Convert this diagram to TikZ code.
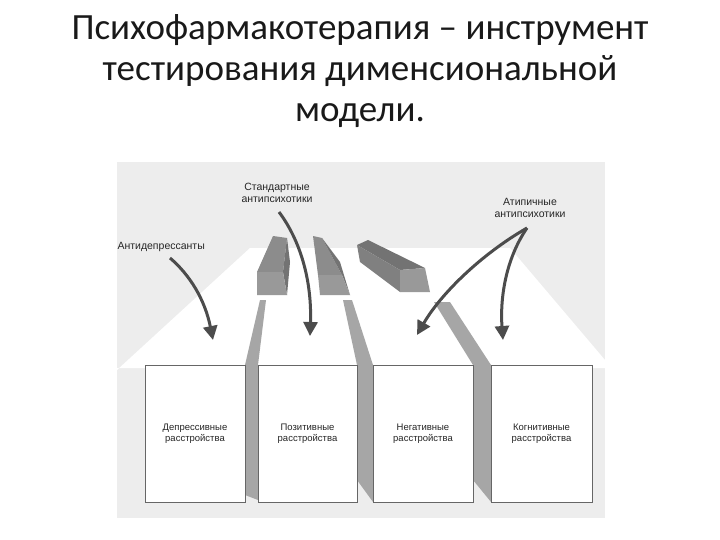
\documentclass[tikz,border=0pt]{standalone}
\usepackage{fontspec}
\setmainfont{Carlito}
\newfontfamily\lab{Liberation Sans}
\usetikzlibrary{arrows.meta}
\begin{document}
\begin{tikzpicture}[x=1pt,y=-1pt,
  title/.style={font=\fontsize{37}{41}\selectfont,align=center,text=black!90},
  lbl/.style={font=\lab\fontsize{10.5}{12.5}\selectfont,align=center,text=black!85},
  btxt/.style={font=\lab\fontsize{9.5}{11.5}\selectfont,align=center,text=black!85},
  box/.style={draw=black!60,fill=white,line width=0.5pt},
  beam/.style={fill=black!35},
  arr/.style={draw=black!70,line width=3pt,-{Triangle[length=14pt,width=14pt]}}]
\useasboundingbox (0,0) rectangle (720,540);
\node[title] (t) at (360,71) {Психофармакотерапия – инструмент\\тестирования дименсиональной\\модели.};
\fill[black!7] (117,162) rectangle (605,518);
\fill[white] (250,248) -- (510,248) -- (605,360) -- (605,368) -- (117,368) -- (117,370) -- cycle;
% beams
\fill[beam] (260,300) -- (266,300) -- (258,365) -- (258,500) -- (245,495) -- (245,365) -- cycle;
\fill[beam] (343,300) -- (352,300) -- (373,365) -- (373,502) -- (357,480) -- (357,365) -- cycle;
\fill[beam] (434,302) -- (450,302) -- (491,365) -- (491,502) -- (473,480) -- (473,365) -- cycle;
% bars
\fill[black!45] (257,272) -- (273,236) -- (287,238) -- (283,272) -- cycle;
\fill[black!55] (283,272) -- (287,238) -- (290,262) -- (287,295) -- cycle;
\fill[black!40] (257,272) -- (283,272) -- (287,295) -- (257,295) -- cycle;
\fill[black!45] (318,275) -- (313,236) -- (322,238) -- (342,275) -- cycle;
\fill[black!55] (322,238) -- (342,275) -- (350,295) -- (340,262) -- cycle;
\fill[black!40] (318,275) -- (342,275) -- (350,295) -- (320,295) -- cycle;
\fill[black!55] (357,245) -- (368,240) -- (425,268) -- (400,270) -- cycle;
\fill[black!50] (357,245) -- (400,270) -- (400,292) -- (360,262) -- cycle;
\fill[black!40] (400,270) -- (425,268) -- (430,292) -- (400,292) -- cycle;
% boxes
\node[box,minimum width=100pt,minimum height=137pt,btxt] (b1) at (195,433.5) {Депрессивные\\расстройства};
\node[box,minimum width=99pt,minimum height=137pt,btxt] (b2) at (307.5,433.5) {Позитивные\\расстройства};
\node[box,minimum width=100pt,minimum height=137pt,btxt] (b3) at (423,433.5) {Негативные\\расстройства};
\node[box,minimum width=101pt,minimum height=137pt,btxt] (b4) at (541.5,433.5) {Когнитивные\\расстройства};
% labels
\node[lbl] (l1) at (277,193) {Стандартные\\антипсихотики};
\node[lbl] (l2) at (530,208) {Атипичные\\антипсихотики};
\node[lbl,anchor=west] (l3) at (114,247) {Антидепрессанты};
\coordinate (e1) at (213,340);
\coordinate (e2) at (310,336);
\coordinate (e3) at (417,335);
\coordinate (e4) at (503,340);
\draw[arr] (170,258) .. controls (190,275) and (205,300) .. (e1);
\draw[arr] (279,212) .. controls (300,240) and (312,280) .. (e2);
\draw[arr] (527,228) .. controls (480,255) and (440,295) .. (e3);
\draw[arr] (527,228) .. controls (505,260) and (500,300) .. (e4);
\end{tikzpicture}
\end{document}
